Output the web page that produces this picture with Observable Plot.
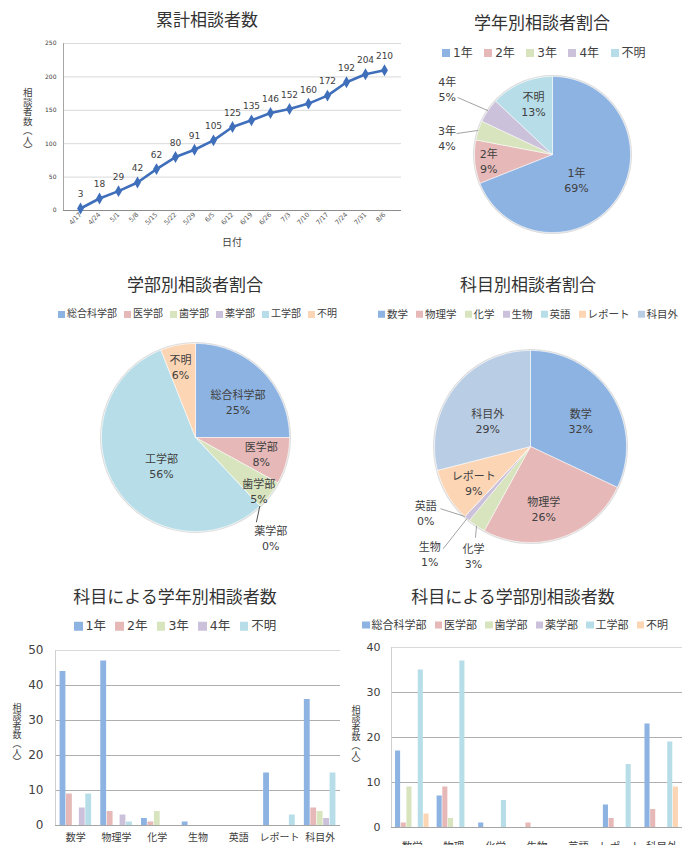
<!DOCTYPE html>
<html lang="ja">
<head>
<meta charset="utf-8">
<script src="https://cdn.jsdelivr.net/npm/d3@7"></script>
<script src="https://cdn.jsdelivr.net/npm/@observablehq/plot@0.6"></script>
<style>
html,body{margin:0;padding:0;background:#fff;}
#root{position:relative;width:694px;height:845px;overflow:hidden;font-family:"DejaVu Sans","Noto Sans CJK JP",sans-serif;color:#404040;}
#root > *{position:absolute;}
.title{font-family:"Noto Sans CJK JP","DejaVu Sans",sans-serif;font-size:17px;color:#333;white-space:nowrap;transform:translate(-50%,-50%);line-height:1;}
.legend{display:flex;align-items:center;white-space:nowrap;transform:translateY(-50%);line-height:1;}
.legend .item{display:flex;align-items:center;}
.legend .sw{display:inline-block;}
.vlabel{font-family:"Noto Sans CJK JP",sans-serif;writing-mode:vertical-rl;transform:translateX(-50%);white-space:nowrap;line-height:1;}
.plain{white-space:nowrap;transform:translate(-50%,-50%);line-height:1;}
</style>
</head>
<body>
<div id="root"></div>
<script>
// ---------- data ----------
const dates = ["4/17","4/24","5/1","5/8","5/15","5/22","5/29","6/5","6/12","6/19","6/26","7/3","7/10","7/17","7/24","7/31","8/6"];
const cumulative = [3,18,29,42,62,80,91,105,125,135,146,152,160,172,192,204,210];
const lineTicks = [0,50,100,150,200,250];

const grades = ["1年","2年","3年","4年","不明"];
const gradeShare = [69,9,4,5,13];

const faculties = ["総合科学部","医学部","歯学部","薬学部","工学部","不明"];
const facultyShare = [25,8,5,0,56,6];

const subjects = ["数学","物理学","化学","生物","英語","レポート","科目外"];
const subjectShare = [32,26,3,1,0,9,29];

// counts by subject (order of subjects) for each grade
const grade1 = [44,47,2,1,0,15,36];
const grade2 = [9,4,1,0,0,0,5];
const grade3 = [0,0,4,0,0,0,4];
const grade4 = [5,3,0,0,0,0,2];
const gradeUnknown = [9,1,0,0,0,3,15];
const gradeTicks = [0,10,20,30,40,50];

// counts by subject for each faculty
const facSogo = [17,7,1,0,0,5,23];
const facIgaku = [1,9,0,1,0,2,4];
const facShigaku = [9,2,0,0,0,0,0];
const facYakugaku = [0,0,0,0,0,0,0];
const facKogaku = [35,37,6,0,0,14,19];
const facUnknown = [3,0,0,0,0,0,9];
const facultyTicks = [0,10,20,30,40];

const subjectTickLabelsA = ["数学","物理学","化学","生物","英語","レポート","科目外"];
const subjectTickLabelsB = ["数学","物理\n学","化学","生物","英語","レポート","科目外"];

// ---------- styles ----------
const FONT = '"DejaVu Sans","Noto Sans CJK JP",sans-serif';
const baseStyle = {fontFamily: FONT, color: "#404040", background: "none", overflow: "visible"};
const gradeColors = ["#8db3e2","#e6b9b8","#d7e4bd","#ccc1da","#b7dee8"];
const facultyColors = ["#8db3e2","#e6b9b8","#d7e4bd","#ccc1da","#b7dee8","#fcd5b5"];
const subjectColors = ["#8db3e2","#e6b9b8","#d7e4bd","#ccc1da","#b7dee8","#fcd5b5","#b9cde5"];

const root = document.getElementById("root");
function put(node, left, top) { node.style.position = "absolute"; node.style.left = left + "px"; node.style.top = top + "px"; root.appendChild(node); return node; }
function addDiv(cls, text, left, top, css = {}) {
  const el = document.createElement("div"); el.className = cls; el.textContent = text;
  Object.assign(el.style, css); return put(el, left, top);
}
function addLegend(keys, colors, {left, top, fontSize, swatch, inner, gap}) {
  const el = document.createElement("div"); el.className = "legend";
  el.style.fontSize = fontSize + "px";
  keys.forEach((k, i) => {
    const it = document.createElement("span"); it.className = "item";
    if (i < keys.length - 1) it.style.marginRight = gap + "px";
    const sw = document.createElement("span"); sw.className = "sw";
    Object.assign(sw.style, {width: swatch + "px", height: swatch + "px", background: colors[i], marginRight: inner + "px"});
    const tx = document.createElement("span"); tx.textContent = k;
    it.appendChild(sw); it.appendChild(tx); el.appendChild(it);
  });
  return put(el, left, top);
}

// ---------- line chart ----------
const lineData = dates.map((d, i) => ({date: d, value: cumulative[i]}));
const blue = "#3f6fba";
const lineChart = Plot.plot({
  width: 410, height: 250,
  marginLeft: 63, marginRight: 9, marginTop: 43, marginBottom: 40,
  style: baseStyle,
  x: {type: "point", domain: dates, padding: 0.5},
  y: {domain: [0, 250]},
  marks: [
    Plot.ruleY(lineTicks.slice(1), {stroke: "#d9d9d9"}),
    Plot.frame({anchor: "left", stroke: "#a6a6a6"}),
    Plot.ruleY([0], {stroke: "#8c8c8c"}),
    Plot.axisY({ticks: lineTicks, tickSize: 0, tickPadding: 7, fontSize: 6, label: null, fill: "#404040"}),
    Plot.axisX({tickRotate: -45, tickSize: 0, tickPadding: 3, fontSize: 6.5, label: null, fill: "#595959"}),
    Plot.line(lineData, {x: "date", y: "value", stroke: blue, strokeWidth: 2.6}),
    Plot.dot(lineData, {x: "date", y: "value", symbol: "diamond", r: 3.6, fill: blue}),
    Plot.text(lineData, {x: "date", y: "value", text: "value", dy: -14, fontSize: 9, fill: "#404040"})
  ]
});
put(lineChart, 0, 0);

// ---------- pie charts ----------
function piePanel({keys, values, colors, left, top, width, height, cx, cy, r, labels, leaderColor, fontSize}) {
  const total = d3.sum(values);
  let acc = 0;
  const slices = keys.map((k, i) => {
    const a0 = acc / total * 360; acc += values[i]; const a1 = acc / total * 360;
    return {key: k, value: values[i], a0, a1, mid: (a0 + a1) / 2};
  });
  const polar = (ang, f) => { const a = ang * Math.PI / 180; return [f * r * Math.sin(a), f * r * Math.cos(a)]; };
  const poly = slices.flatMap(s => {
    const n = Math.max(2, Math.ceil(s.a1 - s.a0));
    const pts = [{key: s.key, x: 0, y: 0}];
    for (let j = 0; j <= n; j++) { const [x, y] = polar(s.a0 + (s.a1 - s.a0) * j / n, 1); pts.push({key: s.key, x, y}); }
    pts.push({key: s.key, x: 0, y: 0});
    return pts;
  });
  const labelRows = slices.map(s => {
    const L = labels[s.key]; const [x, y] = polar(L.ang ?? s.mid, L.f);
    return {x, y, text: `${s.key}\n${s.value}%`};
  });
  const leaderRows = slices.filter(s => labels[s.key].lead).map(s => {
    const L = labels[s.key]; const [x1, y1] = polar(s.mid, 1); const [x2, y2] = polar(L.lead[0], L.lead[1]);
    return {x1, y1, x2, y2};
  });
  const chart = Plot.plot({
    width, height, margin: 0, style: baseStyle,
    x: {domain: [left - cx, left + width - cx], range: [0, width], axis: null},
    y: {domain: [cy - top - height, cy - top], range: [height, 0], axis: null},
    color: {domain: keys, range: colors},
    marks: [
      Plot.dot([{x: 0, y: 0}], {x: "x", y: "y", r: r + 0.8, stroke: "#cfcfcf", strokeWidth: 1.4, strokeOpacity: 0.7, fill: "none"}),
      Plot.line(poly, {x: "x", y: "y", z: "key", fill: "key", stroke: "#fff", strokeWidth: 0.5, strokeLinejoin: "round"}),
      Plot.link(leaderRows, {x1: "x1", y1: "y1", x2: "x2", y2: "y2", stroke: leaderColor, strokeWidth: 0.8}),
      Plot.text(labelRows, {x: "x", y: "y", text: "text", fontSize, lineHeight: 1.35, fill: "#404040"})
    ]
  });
  return put(chart, left, top);
}

piePanel({
  keys: grades, values: gradeShare, colors: gradeColors,
  left: 400, top: 62, width: 294, height: 188, cx: 552, cy: 154, r: 78, fontSize: 11,
  leaderColor: "#8c8c8c",
  labels: {
    "1年": {ang: 137, f: 0.45},
    "2年": {ang: 264.6, f: 0.82},
    "3年": {ang: 279, f: 1.37, lead: [282.3, 1.26]},
    "4年": {ang: 302, f: 1.59, lead: [301, 1.42]},
    "不明": {ang: 339.5, f: 0.70}
  }
});

piePanel({
  keys: faculties, values: facultyShare, colors: facultyColors,
  left: 60, top: 330, width: 290, height: 240, cx: 195, cy: 437, r: 94, fontSize: 11,
  leaderColor: "#262626",
  labels: {
    "総合科学部": {ang: 50, f: 0.59},
    "医学部": {ang: 103.6, f: 0.72},
    "歯学部": {ang: 130, f: 0.88},
    "薬学部": {ang: 143, f: 1.33, lead: [144.3, 1.11]},
    "工学部": {ang: 230.5, f: 0.47},
    "不明": {ang: 348, f: 0.77}
  }
});

piePanel({
  keys: subjects, values: subjectShare, colors: subjectColors,
  left: 395, top: 335, width: 299, height: 240, cx: 530, cy: 446, r: 96, fontSize: 11,
  leaderColor: "#8c8c8c",
  labels: {
    "数学": {ang: 62.5, f: 0.59},
    "物理学": {ang: 168, f: 0.66},
    "化学": {ang: 207.6, f: 1.28, lead: [211.1, 1.11]},
    "生物": {ang: 223.3, f: 1.53, lead: [220.5, 1.40]},
    "英語": {ang: 237.8, f: 1.29, lead: [235.4, 1.14]},
    "レポート": {ang: 237.7, f: 0.70},
    "科目外": {ang: 301, f: 0.52}
  }
});

// ---------- grouped bar charts ----------
function barPanel({series, names, colors, ticks, tickLabels, left, top, width, height, margins, group, yFont, yPad, xFont, xPad, xLineHeight}) {
  const n = names.length;
  const w = group / n, pad = (1 - group) / 2;
  const rows = names.flatMap((g, j) => series[j].map((v, i) => ({subject: subjects[i], name: g, si: i, gi: j, value: v})));
  const chart = Plot.plot({
    width, height, ...margins, style: baseStyle,
    x: {domain: [0, subjects.length]},
    y: {domain: [0, d3.max(ticks)]},
    color: {domain: names, range: colors},
    marks: [
      Plot.ruleY(ticks.slice(1, -1), {stroke: "#a6a6a6", strokeWidth: 0.9}),
      Plot.ruleY(ticks.slice(-1), {stroke: "#d9d9d9"}),
      Plot.ruleX([0], {stroke: "#d0d0d0"}),
      Plot.rect(rows, {x1: d => d.si + pad + d.gi * w, x2: d => d.si + pad + (d.gi + 1) * w, y1: () => 0, y2: "value", fill: "name", insetLeft: 0.3, insetRight: 0.3}),
      Plot.ruleY([0], {stroke: "#a6a6a6"}),
      Plot.axisY({ticks, tickSize: 0, tickPadding: yPad, fontSize: yFont, label: null, fill: "#404040"}),
      Plot.axisX({ticks: subjects.map((s, i) => i + 0.5), tickFormat: t => tickLabels[Math.floor(t)], tickSize: 0, tickPadding: xPad, fontSize: xFont, lineHeight: xLineHeight, label: null, fill: "#404040", fontFamily: '"Noto Sans CJK JP",sans-serif'})
    ]
  });
  return put(chart, left, top);
}

barPanel({
  series: [grade1, grade2, grade3, grade4, gradeUnknown], names: grades, colors: gradeColors,
  ticks: gradeTicks, tickLabels: subjectTickLabelsA,
  left: 0, top: 640, width: 347, height: 205,
  margins: {marginLeft: 55, marginRight: 7, marginTop: 10, marginBottom: 20},
  group: 0.79, yFont: 12, yPad: 12, xFont: 10, xPad: 8, xLineHeight: 1
});

barPanel({
  series: [facSogo, facIgaku, facShigaku, facYakugaku, facKogaku, facUnknown], names: faculties, colors: facultyColors,
  ticks: facultyTicks, tickLabels: subjectTickLabelsB,
  left: 350, top: 637, width: 344, height: 208,
  margins: {marginLeft: 41, marginRight: 12, marginTop: 10, marginBottom: 18},
  group: 0.82, yFont: 11, yPad: 11, xFont: 10.5, xPad: 12, xLineHeight: 1.4
});

// ---------- titles, legends, axis titles ----------
addDiv("title", "累計相談者数", 207, 18);
addDiv("title", "学年別相談者割合", 542, 21);
addDiv("title", "学部別相談者割合", 195, 283);
addDiv("title", "科目別相談者割合", 528, 283);
addDiv("title", "科目による学年別相談者数", 175, 595);
addDiv("title", "科目による学部別相談者数", 513, 595);

addLegend(grades, gradeColors, {left: 442, top: 53, fontSize: 12, swatch: 8, inner: 3, gap: 11.5});
addLegend(faculties, facultyColors, {left: 58, top: 314, fontSize: 10, swatch: 7, inner: 2, gap: 7});
addLegend(subjects, subjectColors, {left: 378, top: 314, fontSize: 10.5, swatch: 7, inner: 2, gap: 8});
addLegend(grades, gradeColors, {left: 74, top: 626, fontSize: 12.5, swatch: 8.5, inner: 3, gap: 9.5});
addLegend(faculties, facultyColors, {left: 362, top: 625, fontSize: 11, swatch: 7.5, inner: 2, gap: 8});

addDiv("vlabel", "相談者数（人）", 27, 88, {fontSize: "9.5px"});
addDiv("vlabel", "相談者数（人）", 17, 703, {fontSize: "9px"});
addDiv("vlabel", "相談者数（人）", 356, 705, {fontSize: "9px"});
addDiv("plain", "日付", 232, 242, {fontSize: "10px", fontFamily: '"Noto Sans CJK JP",sans-serif'});
</script>
</body>
</html>
